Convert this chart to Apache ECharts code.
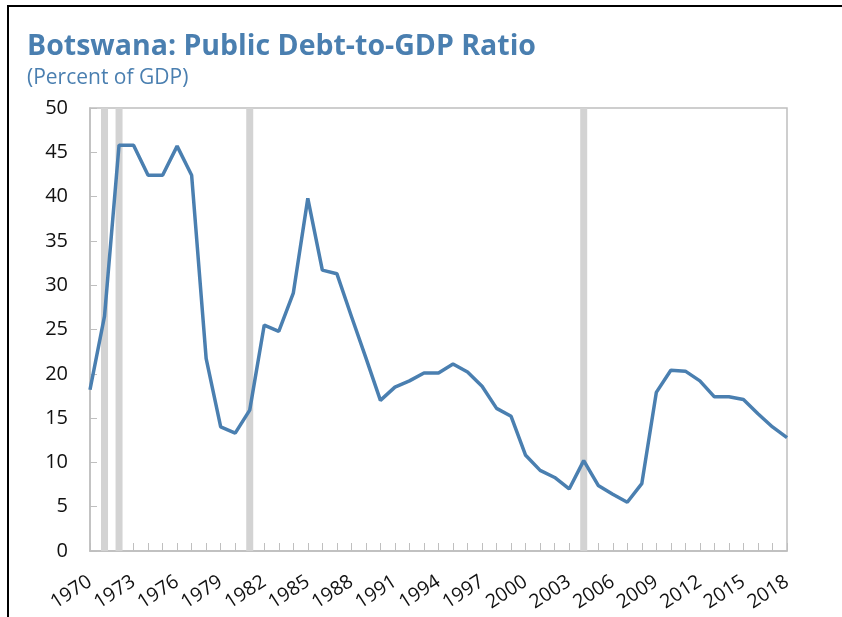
<!DOCTYPE html>
<html>
<head>
<meta charset="utf-8">
<script src="https://cdn.jsdelivr.net/npm/echarts@6/dist/echarts.min.js"></script>
<style>
  html, body { margin: 0; padding: 0; background: #fff; }
  #chart { width: 842px; height: 617px; }
</style>
</head>
<body>
<div id="chart"></div>
<script>
// years on the x axis
const years = [];
for (let y = 1970; y <= 2018; y++) years.push(String(y));

// debt, percent of GDP
const debtRatio = [
  18.2, 26.5, 45.8, 45.8, 42.4, 42.4, 45.7, 42.4, 21.7, 14.0,
  13.3, 15.9, 25.5, 24.8, 29.1, 39.8, 31.7, 31.3, 26.5, 21.8,
  17.0, 18.5, 19.2, 20.1, 20.1, 21.1, 20.2, 18.6, 16.1, 15.2,
  10.8, 9.1, 8.3, 7.0, 10.2, 7.4, 6.4, 5.5, 7.6, 17.9,
  20.4, 20.3, 19.2, 17.4, 17.4, 17.1, 15.5, 14.0, 12.8
];

// years with the grey shading
const shadeYears = ['1971', '1972', '1981', '2004'];

const blue = '#4a7fb0';
const chart = echarts.init(document.getElementById('chart'));

chart.setOption({
  animation: false,
  textStyle: { fontFamily: 'Open Sans' },
  title: {
    text: 'Botswana: Public Debt-to-GDP Ratio',
    subtext: '(Percent of GDP)',
    left: 22,
    top: 27,
    itemGap: 7,
    textStyle: { color: blue, fontSize: 28.5, fontWeight: 'bold', fontFamily: 'Open Sans' },
    subtextStyle: { color: blue, fontSize: 21, fontFamily: 'Open Sans' }
  },
  graphic: [{
    type: 'rect',
    shape: { x: 8, y: 6, width: 900, height: 700 },
    style: { fill: 'none', stroke: '#000', lineWidth: 2 },
    silent: true
  }],
  grid: {
    left: 90, right: 55, top: 108, bottom: 66,
    show: true, borderColor: '#bfbfbf', borderWidth: 1.5,
    containLabel: false
  },
  xAxis: {
    type: 'category',
    data: years,
    boundaryGap: false,
    axisLine: { lineStyle: { color: '#bfbfbf', width: 1.5 } },
    axisTick: { inside: true, length: 8, interval: 0, lineStyle: { color: '#bfbfbf' } },
    axisLabel: { interval: 2, rotate: 33, fontSize: 19.5, color: '#111', margin: 29 },
    splitLine: { show: false }
  },
  yAxis: {
    type: 'value',
    min: 0, max: 50, interval: 5,
    axisLine: { show: true, lineStyle: { color: '#bfbfbf', width: 1.5 } },
    axisTick: { show: true, inside: true, length: 7, lineStyle: { color: '#bfbfbf' } },
    axisLabel: { fontSize: 20, color: '#111', margin: 22 },
    splitLine: { show: false }
  },
  series: [
    {
      type: 'bar',
      barWidth: 7,
      silent: true,
      itemStyle: { color: '#d3d3d3' },
      data: years.map(y => shadeYears.includes(y) ? 50 : '-'),
      z: 1
    },
    {
      type: 'line',
      data: debtRatio,
      symbol: 'none',
      lineStyle: { color: blue, width: 3.5 },
      z: 2
    }
  ]
});
</script>
</body>
</html>
